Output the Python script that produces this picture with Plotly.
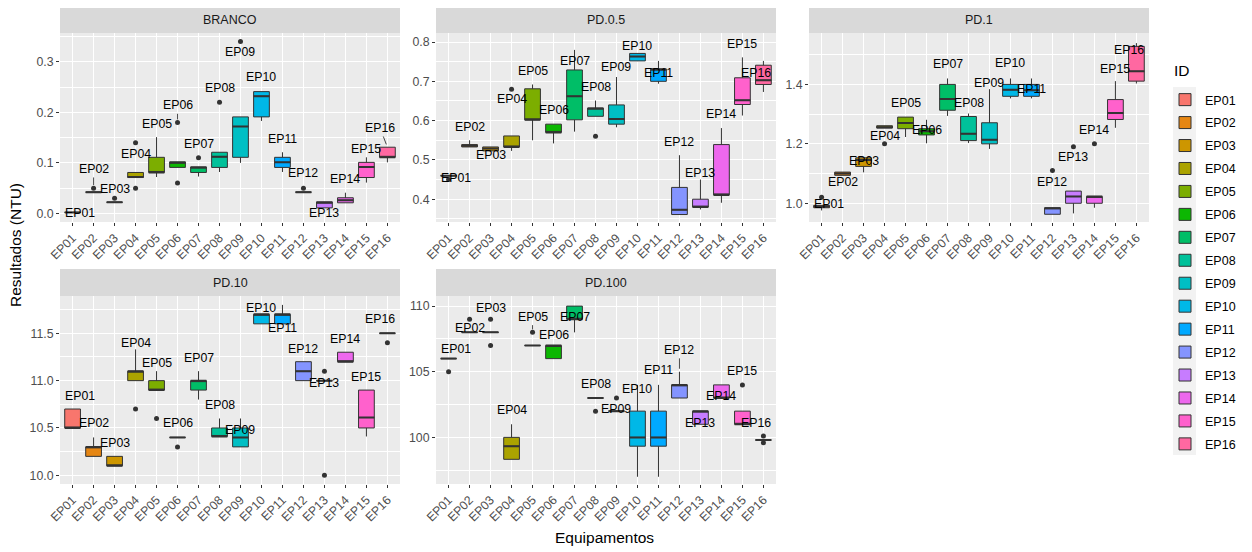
import math
import plotly.graph_objects as go

IDS = ["EP%02d" % i for i in range(1, 17)]
PANELS = ["BRANCO", "PD.0.5", "PD.1", "PD.10", "PD.100"]

# ---------- BRANCO ----------
BRANCO_Q1 = [0.002, 0.042, 0.022, 0.071, 0.081, 0.091, 0.081, 0.091, 0.111, 0.191, 0.091, 0.042, 0.011, 0.021, 0.071, 0.111]
BRANCO_MED = [0.002, 0.042, 0.022, 0.072, 0.081, 0.100, 0.091, 0.112, 0.172, 0.232, 0.101, 0.042, 0.021, 0.026, 0.092, 0.111]
BRANCO_Q3 = [0.002, 0.042, 0.022, 0.081, 0.111, 0.102, 0.092, 0.121, 0.191, 0.241, 0.111, 0.042, 0.023, 0.031, 0.101, 0.131]
BRANCO_LO = [0.002, 0.042, 0.022, 0.071, 0.072, 0.091, 0.073, 0.082, 0.100, 0.183, 0.082, 0.042, 0.011, 0.021, 0.061, 0.101]
BRANCO_HI = [0.002, 0.042, 0.022, 0.081, 0.151, 0.102, 0.092, 0.121, 0.191, 0.241, 0.121, 0.042, 0.023, 0.041, 0.111, 0.131]
BRANCO_OUT = [[], [0.05], [0.03], [0.14, 0.05], [], [0.06, 0.18], [0.11], [0.22], [0.34], [], [], [0.05], [], [], [], []]
BRANCO_LAB = [0.001, 0.088, 0.048, 0.118, 0.176, 0.214, 0.138, 0.248, 0.319, 0.269, 0.148, 0.080, 0.001, 0.068, 0.128, 0.169]
BRANCO_SEG = [None, 0.05, None, None, None, 0.18, None, None, None, None, None, None, None, None, None, 0.131]

# ---------- PD.0.5 ----------
PD05_Q1 = [0.46, 0.533, 0.523, 0.533, 0.602, 0.570, 0.602, 0.611, 0.591, 0.752, 0.700, 0.361, 0.380, 0.411, 0.641, 0.692]
PD05_MED = [0.46, 0.536, 0.529, 0.533, 0.602, 0.570, 0.662, 0.631, 0.604, 0.763, 0.731, 0.373, 0.380, 0.411, 0.652, 0.703]
PD05_Q3 = [0.46, 0.539, 0.533, 0.561, 0.681, 0.591, 0.729, 0.632, 0.640, 0.771, 0.731, 0.430, 0.400, 0.539, 0.709, 0.741]
PD05_LO = [0.46, 0.533, 0.523, 0.523, 0.550, 0.542, 0.572, 0.611, 0.583, 0.752, 0.694, 0.361, 0.374, 0.391, 0.613, 0.673]
PD05_HI = [0.46, 0.550, 0.533, 0.561, 0.692, 0.591, 0.780, 0.651, 0.711, 0.771, 0.752, 0.512, 0.450, 0.581, 0.761, 0.752]
PD05_OUT = [[0.45], [], [], [0.68], [], [], [], [0.56], [], [], [], [], [], [], [], []]
PD05_LAB = [0.453, 0.585, 0.513, 0.654, 0.727, 0.628, 0.753, 0.685, 0.737, 0.789, 0.722, 0.546, 0.466, 0.617, 0.794, 0.722]
PD05_SEG = [None] * 16

# ---------- PD.1 ----------
PD1_Q1 = [0.985, 1.094, 1.124, 1.253, 1.251, 1.230, 1.313, 1.211, 1.200, 1.360, 1.360, 0.963, 1.000, 1.000, 1.282, 1.411]
PD1_MED = [0.989, 1.100, 1.146, 1.256, 1.270, 1.242, 1.351, 1.234, 1.214, 1.382, 1.380, 0.983, 1.023, 1.023, 1.304, 1.444]
PD1_Q3 = [0.993, 1.105, 1.153, 1.261, 1.290, 1.251, 1.400, 1.292, 1.271, 1.400, 1.400, 0.985, 1.041, 1.023, 1.349, 1.528]
PD1_LO = [0.976, 1.094, 1.104, 1.253, 1.223, 1.202, 1.294, 1.203, 1.183, 1.353, 1.353, 0.963, 0.966, 0.985, 1.254, 1.403]
PD1_HI = [0.993, 1.105, 1.153, 1.261, 1.290, 1.281, 1.420, 1.302, 1.384, 1.420, 1.420, 0.985, 1.041, 1.023, 1.411, 1.539]
PD1_OUT = [[1.02], [], [], [1.2], [], [], [], [], [], [], [], [1.11], [1.19], [1.2], [], []]
PD1_LAB = [0.999, 1.073, 1.143, 1.228, 1.338, 1.245, 1.468, 1.338, 1.406, 1.471, 1.383, 1.073, 1.157, 1.247, 1.451, 1.516]
PD1_SEG = [None] * 16

# ---------- PD.10 ----------
PD10_Q1 = [10.5, 10.2, 10.1, 11.0, 10.9, 10.4, 10.9, 10.41, 10.3, 11.6, 11.6, 11.0, 11.0, 11.2, 10.5, 11.5]
PD10_MED = [10.5, 10.3, 10.1, 11.1, 10.9, 10.4, 11.0, 10.41, 10.4, 11.7, 11.7, 11.1, 11.0, 11.2, 10.61, 11.5]
PD10_Q3 = [10.7, 10.3, 10.2, 11.1, 11.0, 10.4, 11.0, 10.5, 10.5, 11.7, 11.7, 11.2, 11.0, 11.3, 10.9, 11.5]
PD10_LO = [10.5, 10.2, 10.1, 11.0, 10.9, 10.4, 10.8, 10.41, 10.3, 11.6, 11.6, 11.0, 11.0, 11.2, 10.41, 11.5]
PD10_HI = [10.7, 10.4, 10.2, 11.33, 11.1, 10.4, 11.1, 10.6, 10.6, 11.7, 11.8, 11.2, 11.0, 11.3, 10.9, 11.5]
PD10_OUT = [[], [], [], [10.7], [10.6], [10.3], [], [], [], [], [], [], [11.1, 10.0], [], [], [11.4]]
PD10_LAB = [10.838, 10.549, 10.338, 11.394, 11.19, 10.549, 11.243, 10.743, 10.479, 11.771, 11.553, 11.335, 10.979, 11.44, 11.042, 11.648]
PD10_SEG = [None] * 16

# ---------- PD.100 ----------
PD100_Q1 = [106, 108, 108, 98.33, 107, 106, 109, 103, 102, 99.33, 99.33, 103, 101, 103, 101, 99.8]
PD100_MED = [106, 108, 108, 99.33, 107, 107, 109, 103, 102, 100.0, 100.0, 104, 102, 103, 101, 99.8]
PD100_Q3 = [106, 108, 108, 100.0, 107, 107, 110, 103, 102, 102.0, 102.0, 104, 102, 104, 102, 99.8]
PD100_LO = [106, 108, 108, 98.33, 107, 106, 108, 103, 102, 97.0, 97.0, 103, 101, 103, 101, 99.8]
PD100_HI = [106, 108, 108, 101.0, 107, 107, 110, 103, 102, 104.0, 104.0, 105, 102, 104, 102, 99.8]
PD100_OUT = [[105], [109], [109, 107], [], [108], [], [], [102], [103], [], [], [], [], [], [104], [100.1, 99.6]]
PD100_LAB = [106.72, 108.31, 109.85, 102.05, 109.2, 107.79, 109.2, 104.08, 102.15, 103.69, 105.13, 106.67, 101.13, 103.13, 105.05, 101.08]
PD100_SEG = [None, None, None, None, 108, None, None, None, None, None, None, 105, None, None, None, None]

LAB_DX = [0.33, 0, 0, 0, 0, 0, 0, 0, 0, 0, 0, 0, 0, 0, 0, -0.35]

DATA = [
    (BRANCO_Q1, BRANCO_MED, BRANCO_Q3, BRANCO_LO, BRANCO_HI, BRANCO_OUT, BRANCO_LAB, BRANCO_SEG),
    (PD05_Q1, PD05_MED, PD05_Q3, PD05_LO, PD05_HI, PD05_OUT, PD05_LAB, PD05_SEG),
    (PD1_Q1, PD1_MED, PD1_Q3, PD1_LO, PD1_HI, PD1_OUT, PD1_LAB, PD1_SEG),
    (PD10_Q1, PD10_MED, PD10_Q3, PD10_LO, PD10_HI, PD10_OUT, PD10_LAB, PD10_SEG),
    (PD100_Q1, PD100_MED, PD100_Q3, PD100_LO, PD100_HI, PD100_OUT, PD100_LAB, PD100_SEG),
]

Y_RANGES = [[-0.017, 0.357], [0.342, 0.823], [0.937, 1.573], [9.908, 11.894], [96.45, 110.77]]
Y_DTICK = [0.1, 0.1, 0.2, 0.5, 5]
Y_FMT = [".1f", ".1f", ".1f", ".1f", "d"]


def hcl_hex(h, c=100.0, l=65.0):
    WX, WY, WZ = 95.047, 100.0, 108.883
    hr = math.radians(h)
    U = c * math.cos(hr)
    V = c * math.sin(hr)
    Y = WY * ((l + 16) / 116) ** 3 if l > 7.999592 else WY * l / 903.3
    t = WX + WY + WZ
    x = WX / t
    y = WY / t
    uN = 2 * x / (6 * y - x + 1.5)
    vN = 4.5 * y / (6 * y - x + 1.5)
    u = U / (13 * l) + uN
    v = V / (13 * l) + vN
    X = 9.0 * Y * u / (4 * v)
    Z = -X / 3 - 5 * Y + 3 * Y / v

    def g(a):
        a = a / WY
        return 1.055 * a ** (1 / 2.4) - 0.055 if a > 0.00304 else 12.92 * a

    R = g(3.240479 * X - 1.537150 * Y - 0.498535 * Z)
    G = g(-0.969256 * X + 1.875992 * Y + 0.041556 * Z)
    B = g(0.055648 * X - 0.204043 * Y + 1.057311 * Z)
    cl = lambda a: max(0, min(255, int(round(a * 255))))
    return "#%02X%02X%02X" % (cl(R), cl(G), cl(B))


n = len(IDS)
COLORS = [hcl_hex(15 + 360.0 * i / n) for i in range(n)]

# page is offset by the default 8px body margin -> figure is 8px smaller and
# all page-pixel positions are shifted by OFF
OFF = 8
W, H = 1252 - OFF, 552 - OFF


def fx(px):
    return (px - OFF) / W


def fy(py):
    return 1 - (py - OFF) / H


COLS = [(60, 400), (436, 776), (809, 1149)]
# (strip_top, panel_top, panel_bottom) in page pixels from the top
ROWS = [(7, 33, 222), (269, 296, 484)]
POS = [(0, 0), (0, 1), (0, 2), (1, 0), (1, 1)]

FONT = "Liberation Sans, Arial, sans-serif"
EDGE = "#333333"

fig = go.Figure()
layout = dict(
    width=W, height=H, autosize=False,
    margin=dict(l=0, r=0, t=0, b=0, pad=0, autoexpand=False),
    paper_bgcolor="white", plot_bgcolor="#EBEBEB",
    font=dict(family=FONT, color="black"),
    boxmode="overlay",
    showlegend=True,
    legend=dict(
        font=dict(size=12.5, color="black"),
        x=fx(1165), xanchor="left", y=fy(85), yanchor="top",
        tracegroupgap=3.7, itemwidth=30, bgcolor="rgba(0,0,0,0)",
    ),
)
annotations = []
shapes = []

for k, (r, c) in enumerate(POS):
    s = "" if k == 0 else str(k + 1)
    xa, ya = "x" + s, "y" + s
    st, ptop, pbot = ROWS[r]
    x0, x1 = COLS[c]
    layout["xaxis" + s] = dict(
        domain=[fx(x0), fx(x1)], anchor=ya, type="category", automargin=False,
        categoryorder="array", categoryarray=IDS, range=[-0.6, 15.6],
        showgrid=True, gridcolor="white", gridwidth=1.1, zeroline=False,
        showline=False, ticks="outside", ticklen=3, tickcolor=EDGE,
        tickangle=-45, tickfont=dict(size=12.3, color="#4D4D4D"),
    )
    layout["yaxis" + s] = dict(
        domain=[fy(pbot), fy(ptop)], anchor=xa, range=Y_RANGES[k], automargin=False,
        dtick=Y_DTICK[k], tick0=0, tickformat=Y_FMT[k],
        showgrid=True, gridcolor="white", gridwidth=1.1, zeroline=False,
        showline=False, ticks="outside", ticklen=3, tickcolor=EDGE,
        tickfont=dict(size=12.3, color="#4D4D4D"),
        minor=dict(dtick=Y_DTICK[k] / 2, tick0=0, showgrid=True, gridcolor="white", gridwidth=0.55, ticks=""),
    )
    # strip
    shapes.append(dict(type="rect", xref="paper", yref="paper",
                       x0=fx(x0), x1=fx(x1), y0=fy(ptop), y1=fy(st),
                       fillcolor="#D9D9D9", line=dict(width=0), layer="below"))
    annotations.append(dict(text=PANELS[k], xref="paper", yref="paper",
                            x=fx((x0 + x1) / 2), y=fy((st + ptop) / 2),
                            showarrow=False, font=dict(size=12.5, color="#1A1A1A"),
                            xanchor="center", yanchor="middle"))

    q1, med, q3, lo, hi, out, lab, seg = DATA[k]
    for i, ep in enumerate(IDS):
        fig.add_trace(go.Box(
            x=[ep], q1=[q1[i]], median=[med[i]], q3=[q3[i]],
            lowerfence=[lo[i]], upperfence=[hi[i]],
            fillcolor=COLORS[i], line=dict(color=EDGE, width=1),
            whiskerwidth=0, width=0.75, boxpoints=False,
            name=ep, legendgroup=ep, showlegend=(k == 0),
            xaxis=xa, yaxis=ya, hoverinfo="skip",
        ))
        fig.add_trace(go.Box(
            x=[ep], q1=[med[i]], median=[med[i]], q3=[med[i]],
            lowerfence=[med[i]], upperfence=[med[i]],
            fillcolor="rgba(0,0,0,0)", line=dict(color=EDGE, width=2),
            whiskerwidth=0, width=0.75, boxpoints=False,
            name=ep, legendgroup=ep, showlegend=False,
            xaxis=xa, yaxis=ya, hoverinfo="skip",
        ))
        if out[i]:
            fig.add_trace(go.Scatter(
                x=[ep] * len(out[i]), y=out[i], mode="markers",
                marker=dict(color=EDGE, size=5), showlegend=False,
                legendgroup=ep, xaxis=xa, yaxis=ya, hoverinfo="skip",
            ))
        if seg[i] is not None:
            annotations.append(dict(
                text=ep, xref=xa, yref=ya, x=i, y=seg[i],
                axref=xa, ayref=ya, ax=i + LAB_DX[i], ay=lab[i],
                showarrow=True, arrowhead=0, arrowwidth=0.7, arrowcolor="black",
                standoff=3, font=dict(size=12.3, color="black"),
            ))
        else:
            annotations.append(dict(
                text=ep, xref=xa, yref=ya, x=i + LAB_DX[i], y=lab[i],
                showarrow=False, font=dict(size=12.3, color="black"),
                xanchor="center", yanchor="middle",
            ))

# legend key background
shapes.append(dict(type="rect", xref="paper", yref="paper",
                   x0=fx(1173), x1=fx(1196), y0=fy(455), y1=fy(87),
                   fillcolor="#F2F2F2", line=dict(width=0), layer="below"))

annotations.append(dict(text="ID", xref="paper", yref="paper",
                        x=fx(1172), y=fy(70), showarrow=False,
                        font=dict(size=15.5, color="black"), xanchor="left", yanchor="middle"))
annotations.append(dict(text="Resultados (NTU)", xref="paper", yref="paper",
                        x=fx(15), y=fy(245), textangle=-90, showarrow=False,
                        font=dict(size=15.5, color="black"), xanchor="center", yanchor="middle"))
annotations.append(dict(text="Equipamentos", xref="paper", yref="paper",
                        x=fx(604.5), y=fy(537), showarrow=False,
                        font=dict(size=15.5, color="black"), xanchor="center", yanchor="middle"))

layout["annotations"] = annotations
layout["shapes"] = shapes
fig.update_layout(**layout)
fig.write_html("out.html")
